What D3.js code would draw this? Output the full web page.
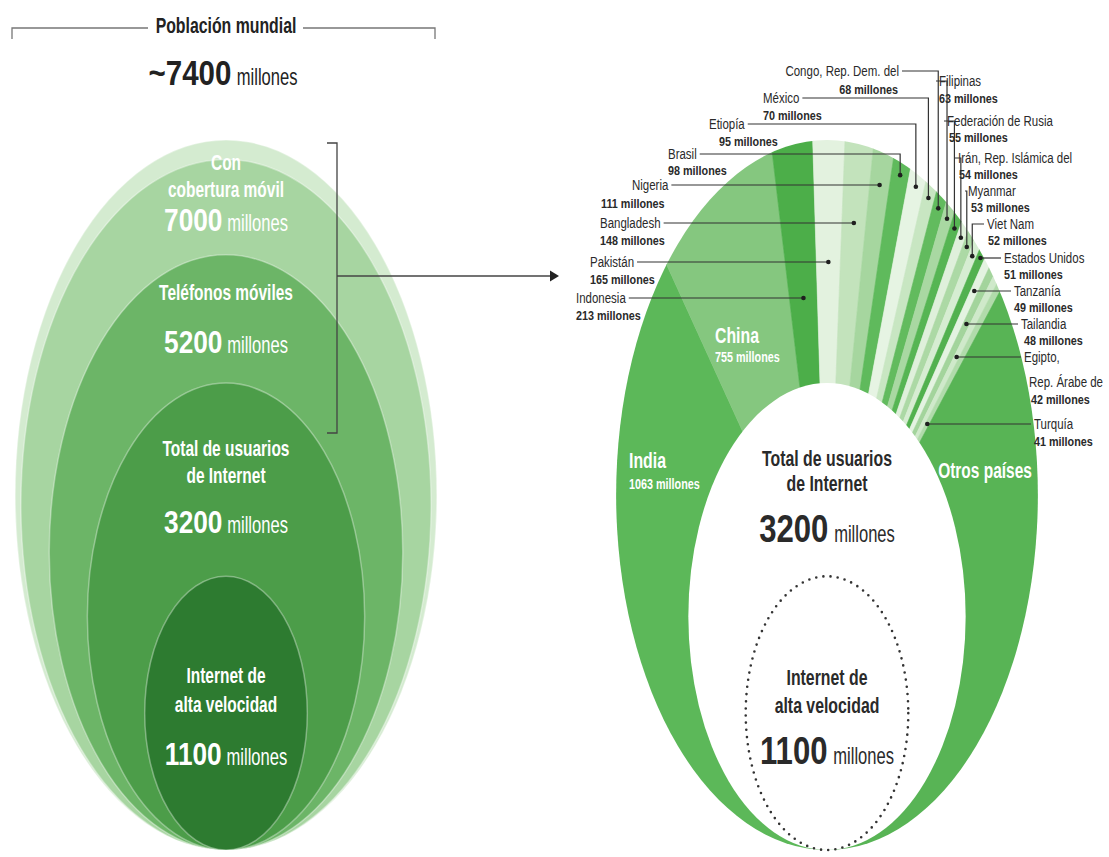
<!DOCTYPE html>
<html>
<head>
<meta charset="utf-8">
<script src="https://cdn.jsdelivr.net/npm/d3@7"></script>
<style>
  html, body { margin: 0; padding: 0; background: #fff; }
  svg { display: block; }
  text { font-family: "Liberation Sans", Arial, sans-serif; }
</style>
</head>
<body>
<svg id="chart" width="1109" height="857"></svg>
<script>
// ---- Data (millones de personas) ----
const worldPopulation = 7400;
const layerTitles = [["Con", "cobertura móvil"], ["Teléfonos móviles"], ["Total de usuarios", "de Internet"], ["Internet de", "alta velocidad"]];
const layerValues = [7000, 5200, 3200, 1100];

// Población sin acceso a Internet por país (en el anillo de la derecha)
const countryNames = ["India", "China", "Indonesia", "Pakistán", "Bangladesh", "Nigeria", "Brasil", "Etiopía", "México",
  "Congo, Rep. Dem. del", "Filipinas", "Federación de Rusia", "Irán, Rep. Islámica del", "Myanmar", "Viet Nam",
  "Estados Unidos", "Tanzanía", "Tailandia", "Egipto, Rep. Árabe de", "Turquía", "Otros países"];
const offlineValues = [1063, 755, 213, 165, 148, 111, 98, 95, 70, 68, 63, 55, 54, 53, 52, 51, 49, 48, 42, 41, 906];

// ---- Styles ----
const layerColors = ["#d4ebd0", "#a7d5a1", "#6cb567", "#4c9d49", "#2d7b30"];
const sliceColors = ["#5cb859", "#85c77f", "#4cae49", "#e3f2df", "#c3e3bc", "#a6d69f", "#5fba5c", "#e6f4e3", "#c8e6c2",
  "#62bb5e", "#a9d8a2", "#56b553", "#dff0db", "#acd9a5", "#d6edd2", "#52b14f", "#e4f3e1", "#a3d49c", "#cfe9ca",
  "#b1dbab", "#58b455"];
const ink = "#2a2a2a";
const SX = 0.72;     // horizontal condensing of the typeface for words
const NUM_SX = 0.82; // and for the large figures

// Label placement for the countries around the ring (index into countryNames)
const labelLayout = [
  { i: 2,  lines: ["Indonesia"], x: 576, y: 303, vx: 576, vy: 320, dir: "right", leader: "h" },
  { i: 3,  lines: ["Pakistán"], x: 590, y: 267, vx: 590, vy: 284, dir: "right", leader: "h" },
  { i: 4,  lines: ["Bangladesh"], x: 600, y: 228, vx: 600, vy: 245, dir: "right", leader: "h" },
  { i: 5,  lines: ["Nigeria"], x: 632, y: 190, vx: 601, vy: 208, dir: "right", leader: "h" },
  { i: 6,  lines: ["Brasil"], x: 668, y: 159, vx: 668, vy: 175, dir: "right", leader: "elbow" },
  { i: 7,  lines: ["Etiopía"], x: 709, y: 129, vx: 719, vy: 146, dir: "right", leader: "elbow" },
  { i: 8,  lines: ["México"], x: 763, y: 103, vx: 763, vy: 120, dir: "right", leader: "elbow" },
  { i: 9,  lines: ["Congo, Rep. Dem. del"], x: 899, y: 76, vx: 898, vy: 94, dir: "right", leader: "elbow", anchor: "end" },
  { i: 10, lines: ["Filipinas"], x: 939, y: 86, vx: 939, vy: 103, dir: "left", leader: "elbow" },
  { i: 11, lines: ["Federación de Rusia"], x: 947, y: 126, vx: 949, vy: 142, dir: "left", leader: "elbow" },
  { i: 12, lines: ["Irán, Rep. Islámica del"], x: 958, y: 163, vx: 959, vy: 179, dir: "left", leader: "elbow" },
  { i: 13, lines: ["Myanmar"], x: 968, y: 196, vx: 971, vy: 212, dir: "left", leader: "elbow" },
  { i: 14, lines: ["Viet Nam"], x: 987, y: 229, vx: 988, vy: 245, dir: "left", leader: "elbow" },
  { i: 15, lines: ["Estados Unidos"], x: 1004, y: 263, vx: 1004, vy: 279, dir: "left", leader: "h" },
  { i: 16, lines: ["Tanzanía"], x: 1014, y: 296, vx: 1014, vy: 312, dir: "left", leader: "h" },
  { i: 17, lines: ["Tailandia"], x: 1021, y: 329, vx: 1024, vy: 345, dir: "left", leader: "h" },
  { i: 18, lines: ["Egipto,", "Rep. Árabe de"], x: 1024, y: 362, vx: 1031, vy: 404, dir: "left", leader: "h", x2: 1029, y2: 387 },
  { i: 19, lines: ["Turquía"], x: 1034, y: 429, vx: 1034, vy: 446, dir: "left", leader: "h" }
];

const svg = d3.select("#chart");

// ---- Text helpers ----
function label(g, x, y, str, o = {}) {
  const sx = o.sx == null ? SX : o.sx;
  return g.append("text")
    .attr("transform", `translate(${x},${y}) scale(${sx},1)`)
    .attr("text-anchor", o.anchor || "start")
    .attr("font-size", o.size || 16)
    .attr("font-weight", o.weight || "normal")
    .attr("fill", o.fill || ink)
    .text(str);
}
function valueLine(g, cx, y, num, numSize, unitSize, fill) {
  const t1 = label(g, 0, y, num, { size: numSize, weight: "bold", fill, sx: NUM_SX });
  const t2 = label(g, 0, y, "millones", { size: unitSize, fill });
  const w1 = t1.node().getComputedTextLength() * NUM_SX;
  const w2 = t2.node().getComputedTextLength() * SX;
  const gap = numSize * 0.15;
  const x0 = cx - (w1 + gap + w2) / 2;
  t1.attr("transform", `translate(${x0},${y}) scale(${NUM_SX},1)`);
  t2.attr("transform", `translate(${x0 + w1 + gap},${y}) scale(${SX},1)`);
}

// ---- Shared geometry: ellipse area proportional to value ----
const baseY = 850;
const ryScale = d3.scaleSqrt().domain([0, worldPopulation]).range([0, 355]);
const aspect = 0.594;
function ellipseFor(value, cx) {
  const ry = ryScale(value);
  return { cx, cy: baseY - ry, rx: ry * aspect, ry };
}

// ---- Header ----
const head = svg.append("g");
head.append("path").attr("d", "M12,39V28H148 M303,28H435V39").attr("fill", "none").attr("stroke", "#777").attr("stroke-width", 1.3);
label(head, 226, 33, "Población mundial", { size: 22, weight: "bold", anchor: "middle", fill: "#222" });
valueLine(head, 223, 85, "~" + worldPopulation, 36, 23, "#222");

// ---- Left: nested ellipses ----
const leftCx = 226;
const left = svg.append("g");
const leftLayers = [worldPopulation].concat(layerValues);
left.selectAll("ellipse")
  .data(leftLayers)
  .join("ellipse")
  .each(function (d) {
    const e = ellipseFor(d, leftCx);
    d3.select(this).attr("cx", e.cx).attr("cy", e.cy).attr("rx", e.rx).attr("ry", e.ry);
  })
  .attr("fill", (d, i) => layerColors[i])
  .attr("stroke", "rgba(255,255,255,0.35)")
  .attr("stroke-width", 1.5);

const layerTextY = [
  { lines: [170, 197], value: 231 },
  { lines: [300], value: 353 },
  { lines: [456, 483], value: 533 },
  { lines: [683, 712], value: 765 }
];
layerValues.forEach((v, k) => {
  layerTitles[k].forEach((s, j) => label(left, leftCx, layerTextY[k].lines[j], s, { size: 21.5, weight: "bold", anchor: "middle", fill: "#fff" }));
  valueLine(left, leftCx, layerTextY[k].value, String(v), 32, 23, "#fff");
});

// Bracket and arrow toward the ring
const conn = svg.append("g").attr("fill", "none").attr("stroke", "#444").attr("stroke-width", 1.3);
conn.append("path").attr("d", "M327,143H337V433H327");
conn.append("path").attr("d", "M337,276H551");
svg.append("path").attr("d", "M550,270.5L559,276L550,281.5Z").attr("fill", "#222");

// ---- Right: ring of offline population by country ----
const rightCx = 827;
const outer = ellipseFor(worldPopulation, rightCx);
const hole = ellipseFor(layerValues[2], rightCx);
const highSpeed = ellipseFor(layerValues[3], rightCx);
const C = { x: hole.cx, y: hole.cy };

const arcs = d3.pie().sort(null).value(d => d)(offlineValues);
const deg = Math.PI / 180;
// The listed countries fan out over the top; India and the rest fill the sides.
const angleOf = d3.scaleLinear()
  .domain([0, arcs[0].endAngle, arcs[arcs.length - 2].endAngle, 2 * Math.PI])
  .range([-Math.PI, -24.5 * deg, 28 * deg, Math.PI]);

function wedgePath(a0, a1) {
  const n = Math.max(2, Math.ceil(Math.abs(a1 - a0) / deg));
  const pts = [[C.x, C.y]];
  for (let k = 0; k <= n; k++) {
    const a = a0 + (a1 - a0) * k / n;
    pts.push([C.x + 900 * Math.sin(a), C.y - 900 * Math.cos(a)]);
  }
  return d3.line()(pts) + "Z";
}
// distance from C to the outer ellipse along angle a
function outerDistance(a) {
  const dx = Math.sin(a), dy = -Math.cos(a), oy = C.y - outer.cy;
  const A = dx * dx / (outer.rx * outer.rx) + dy * dy / (outer.ry * outer.ry);
  const B = 2 * dy * oy / (outer.ry * outer.ry);
  const K = oy * oy / (outer.ry * outer.ry) - 1;
  return (-B + Math.sqrt(B * B - 4 * A * K)) / (2 * A);
}

svg.append("defs").append("clipPath").attr("id", "ringClip")
  .append("ellipse").attr("cx", outer.cx).attr("cy", outer.cy).attr("rx", outer.rx).attr("ry", outer.ry);

const ring = svg.append("g").attr("clip-path", "url(#ringClip)");
ring.selectAll("path")
  .data(arcs)
  .join("path")
  .attr("d", d => wedgePath(angleOf(d.startAngle), angleOf(d.endAngle)))
  .attr("fill", (d, i) => sliceColors[i])
  .attr("stroke", (d, i) => sliceColors[i])
  .attr("stroke-width", 0.6);

svg.append("ellipse").attr("cx", hole.cx).attr("cy", hole.cy).attr("rx", hole.rx).attr("ry", hole.ry).attr("fill", "#fff");
svg.append("ellipse").attr("cx", highSpeed.cx).attr("cy", highSpeed.cy).attr("rx", highSpeed.rx).attr("ry", highSpeed.ry)
  .attr("fill", "none").attr("stroke", "#333").attr("stroke-width", 2.6)
  .attr("stroke-linecap", "round").attr("stroke-dasharray", "0 7.2");

// Centre texts
const mid = svg.append("g");
label(mid, rightCx, 466, layerTitles[2][0], { size: 22, weight: "bold", anchor: "middle" });
label(mid, rightCx, 491, layerTitles[2][1], { size: 22, weight: "bold", anchor: "middle" });
valueLine(mid, rightCx, 542, String(layerValues[2]), 38, 23, ink);
label(mid, rightCx, 685, layerTitles[3][0], { size: 22, weight: "bold", anchor: "middle" });
label(mid, rightCx, 713, layerTitles[3][1], { size: 22, weight: "bold", anchor: "middle" });
valueLine(mid, rightCx, 764, String(layerValues[3]), 38, 23, ink);

// Labels inside the ring
label(mid, 629, 468, countryNames[0], { size: 22, weight: "bold", fill: "#fff" });
label(mid, 629, 489, offlineValues[0] + " millones", { size: 15, weight: "bold", fill: "#fff" });
label(mid, 715, 343, countryNames[1], { size: 22, weight: "bold", fill: "#fff" });
label(mid, 715, 362, offlineValues[1] + " millones", { size: 15, weight: "bold", fill: "#fff" });
label(mid, 985, 478, countryNames[20], { size: 21.5, weight: "bold", fill: "#fff", anchor: "middle" });

// Country call-outs with leader lines
const NAME_SIZE = 14, NAME_SX = 0.82, VAL_SIZE = 13.5, VAL_SX = 0.8;
const callouts = svg.append("g");
labelLayout.forEach(L => {
  const arc = arcs[L.i];
  const a = angleOf((arc.startAngle + arc.endAngle) / 2);
  const anchor = L.anchor || "start";
  const t = label(callouts, L.x, L.y, L.lines[0], { size: NAME_SIZE, sx: NAME_SX, anchor });
  if (L.lines[1]) label(callouts, L.x2, L.y2, L.lines[1], { size: NAME_SIZE, sx: NAME_SX });
  label(callouts, L.vx, L.vy, offlineValues[L.i] + " millones", { size: VAL_SIZE, sx: VAL_SX, weight: "bold", anchor });
  const w = t.node().getComputedTextLength() * NAME_SX;
  const ly = L.y - 5;
  let lx;
  if (L.dir === "right") lx = anchor === "end" ? L.x + 3 : L.x + w + 3;
  else lx = L.x - 3;
  let dot;
  if (L.leader === "h") {
    const r = (C.y - ly) / Math.cos(a);
    dot = [C.x + r * Math.sin(a), ly];
  } else {
    const r = outerDistance(a) - 12;
    dot = [C.x + r * Math.sin(a), C.y - r * Math.cos(a)];
  }
  const d = L.leader === "h" ? `M${lx},${ly}H${dot[0]}` : `M${lx},${ly}H${dot[0]}V${dot[1]}`;
  callouts.append("path").attr("d", d).attr("fill", "none").attr("stroke", "#333").attr("stroke-width", 1.2);
  callouts.append("circle").attr("cx", dot[0]).attr("cy", dot[1]).attr("r", 2.3).attr("fill", "#1f1f1f");
});
</script>
</body>
</html>
